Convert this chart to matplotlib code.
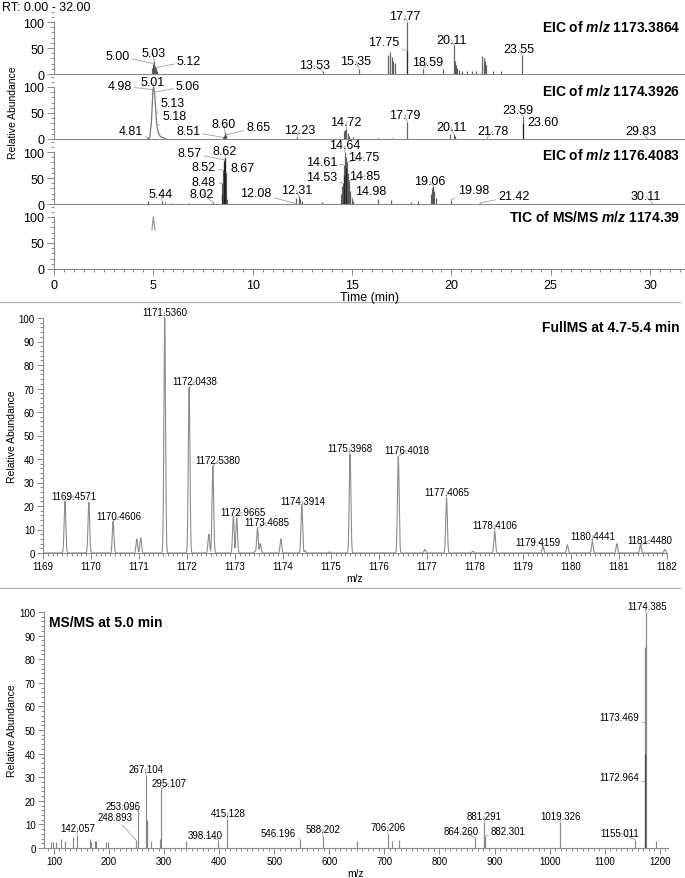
import numpy as np
import matplotlib
matplotlib.use("Agg")
import matplotlib.pyplot as plt
from matplotlib.lines import Line2D
from matplotlib.ticker import MultipleLocator

plt.rcParams['font.family'] = ['Liberation Sans', 'DejaVu Sans']
plt.rcParams['mathtext.fontset'] = 'custom'
plt.rcParams['mathtext.it'] = 'Liberation Sans:italic:bold'
plt.rcParams['mathtext.rm'] = 'Liberation Sans:bold'
plt.rcParams['mathtext.bf'] = 'Liberation Sans:bold'

# ---------------- data ----------------
# EIC of m/z 1173.3864
eic1_t = [4.95, 5.00, 5.03, 5.08, 5.12, 5.20, 13.53, 15.35, 16.80, 16.92, 17.00, 17.07, 17.14,
          17.75, 17.77, 18.59, 19.60, 20.11, 20.16, 20.21, 20.28, 20.36, 20.55, 20.78, 21.02,
          21.25, 21.55, 21.62, 21.68, 21.75, 22.10, 22.50, 23.55]
eic1_i = [12, 20, 25, 15, 12, 5, 5, 10, 36, 42, 32, 25, 22,
          45, 100, 10, 10, 55, 25, 18, 12, 8, 5, 5, 5,
          5, 35, 30, 25, 18, 5, 5, 37]
eic1_lab_t = [5.00, 5.03, 5.12, 13.53, 15.35, 17.75, 17.77, 18.59, 20.11, 23.55]
eic1_lab_i = [20, 25, 12, 5, 10, 45, 100, 10, 55, 37]

# EIC of m/z 1174.3926
eic2_prof_t = [4.70, 4.81, 4.90, 4.98, 5.01, 5.06, 5.13, 5.18, 5.25, 5.35, 5.50, 5.65]
eic2_prof_i = [0, 2, 30, 95, 100, 90, 50, 25, 12, 5, 2, 0]
eic2_t = [8.51, 8.55, 8.60, 8.65, 12.23, 14.60, 14.66, 14.72, 14.78, 14.85, 15.05, 16.30,
          17.00, 17.79, 19.95, 20.11, 20.20, 21.78, 23.59, 23.60, 29.83]
eic2_i = [3, 8, 13, 8, 3, 15, 18, 20, 12, 5, 3, 2,
          2, 33, 10, 10, 5, 2, 45, 30, 2]
eic2_lab_t = [4.98, 5.01, 5.06, 5.13, 5.18, 4.81, 8.51, 8.60, 8.65, 12.23, 14.72, 17.79,
              20.11, 21.78, 23.59, 23.60, 29.83]
eic2_lab_i = [95, 100, 90, 50, 25, 2, 3, 13, 8, 3, 20, 33, 10, 2, 45, 30, 2]

# EIC of m/z 1176.4083
eic3_t = [4.75, 5.44, 5.60, 5.90, 6.80, 8.02, 8.45, 8.48, 8.52, 8.55, 8.57, 8.60, 8.62, 8.67,
          8.72, 12.08, 12.20, 12.31, 12.40, 12.50, 13.50, 14.45, 14.50, 14.53, 14.57, 14.61,
          14.64, 14.68, 14.72, 14.75, 14.80, 14.85, 14.90, 14.98, 15.05, 16.30, 16.95, 17.95,
          18.30, 18.95, 19.00, 19.06, 19.12, 19.20, 19.98, 21.42, 30.11]
eic3_i = [6, 5, 4, 2, 2, 3, 20, 40, 65, 80, 85, 88, 90, 60,
          10, 2, 12, 15, 10, 5, 3, 20, 35, 40, 55, 75,
          100, 90, 70, 80, 60, 45, 25, 12, 5, 10, 8, 4,
          5, 20, 30, 35, 25, 12, 8, 2, 2]
eic3_lab_t = [5.44, 8.02, 8.48, 8.52, 8.57, 8.62, 8.67, 12.08, 12.31, 14.53, 14.61, 14.64,
              14.75, 14.85, 14.98, 19.06, 19.98, 21.42, 30.11]
eic3_lab_i = [5, 3, 40, 65, 85, 90, 60, 2, 15, 40, 75, 100, 80, 45, 12, 35, 8, 2, 2]

# TIC of MS/MS m/z 1174.39
tic_t = [4.93, 5.00, 5.08]
tic_i = [75, 100, 75]

eic_titles = ["1173.3864", "1174.3926", "1176.4083"]

# Full MS 4.7-5.4 min
ms1_mz = [1169.4571, 1169.955, 1170.4606, 1170.955, 1171.035, 1171.5360, 1172.0438, 1172.455,
          1172.5380, 1172.9665, 1173.035, 1173.425, 1173.4685, 1173.525, 1173.955, 1174.3914,
          1174.455, 1174.965, 1175.3968, 1176.4018, 1176.955, 1177.4065, 1177.955, 1178.4106,
          1179.4159, 1179.925, 1180.4441, 1180.955, 1181.4480, 1181.955]
ms1_int = [22, 21.5, 13.5, 6, 6.5, 100, 70.5, 8,
           37, 15.5, 15, 1, 10.5, 4, 6, 20,
           1, 0.5, 42, 41, 1.5, 23.5, 0.8, 9,
           3, 3.5, 5, 4, 3.5, 1.5]
ms1_lab_mz = [1169.4571, 1170.4606, 1171.5360, 1172.0438, 1172.5380, 1172.9665, 1173.4685,
              1174.3914, 1175.3968, 1176.4018, 1177.4065, 1178.4106, 1179.4159, 1180.4441,
              1181.4480]
ms1_lab_int = [22, 13.5, 100, 70.5, 37, 15.5, 10.5, 20, 42, 41, 23.5, 9, 3, 5, 3.5]

# MS/MS at 5.0 min
ms2_mz = [95.6, 98.6, 103.5, 112.5, 121.0, 133.8, 142.057, 165.0, 168.0, 174.0, 176.0, 194.0,
          198.6, 248.893, 253.096, 267.104, 268.2, 276.0, 293.5, 295.107, 339.0, 398.140,
          415.128, 546.196, 588.202, 650.0, 706.206, 714.0, 726.0, 864.260, 881.291, 882.301,
          1019.326, 1155.011, 1172.964, 1173.469, 1174.385, 1194.0]
ms2_int = [2.5, 2.5, 2.5, 4.0, 3.0, 4.5, 5.5, 4.0, 2.5, 3.0, 3.0, 2.5,
           2.5, 3.5, 16.0, 31.0, 12.0, 3.0, 4.0, 25.0, 3.0, 3.5,
           12.5, 4.0, 5.0, 3.0, 6.0, 3.0, 3.5, 4.5, 11.0, 5.0,
           11.0, 3.5, 40.0, 85.0, 100.0, 3.0]
ms2_lab_mz = [142.057, 248.893, 253.096, 267.104, 295.107, 398.140, 415.128, 546.196, 588.202,
              706.206, 864.260, 881.291, 882.301, 1019.326, 1155.011, 1174.385, 1173.469,
              1172.964]
ms2_lab_int = [5.5, 3.5, 16, 31, 25, 3.5, 12.5, 4, 5, 6, 4.5, 11, 5, 11, 3.5, 100, 53, 28]

# ---------------- label placement (data coords) ----------------
eic1_lab_pos = [(3.2, 35), (5.0, 40), (6.8, 25), (13.1, 17), (15.2, 25), (16.6, 61),
                (17.65, 112), (18.8, 23), (20.0, 66), (23.4, 48)]
eic2_lab_pos = [(3.3, 102), (4.98, 110), (6.75, 102), (5.95, 69), (6.05, 44), (3.85, 15),
                (6.75, 15), (8.55, 29), (10.3, 23), (12.35, 17), (14.7, 33), (17.65, 46),
                (20.0, 23), (22.1, 15), (23.35, 56), (24.6, 33), (29.55, 15)]
eic3_lab_pos = [(5.38, 19), (7.45, 19), (7.55, 42), (7.55, 71), (6.8, 98), (8.57, 102),
                (9.47, 69), (10.15, 21), (12.2, 27), (13.45, 52), (13.45, 81), (14.65, 113),
                (15.6, 90), (15.65, 54), (15.95, 25), (18.9, 44), (21.1, 27), (23.15, 15),
                (29.8, 15)]
ms1_lab_pos = [(1169.64, 24.3), (1170.59, 15.7), (1171.53, 102.5), (1172.17, 73),
               (1172.65, 39.5), (1173.16, 17.4), (1173.66, 13), (1174.41, 22),
               (1175.39, 44.7), (1176.58, 44), (1177.42, 26), (1178.42, 12),
               (1179.31, 4.7), (1180.46, 7.4), (1181.65, 5.5)]
ms2_lab_pos = [(143.5, 8.5), (210.7, 13), (225.3, 18), (267.1, 33.5), (308.9, 27.5),
               (374.4, 5.5), (416.2, 15), (507, 6.5), (588.9, 8), (707, 9), (839.8, 7),
               (881.6, 13.5), (925.3, 7), (1019.8, 13.5), (1127, 6.5), (1176.2, 102.5),
               (1127, 55.5), (1127, 30)]

W, H = 685, 879
GRAY = '#8a8a8a'


def rect(left, right, bottom, top):
    return [left / W, 1 - bottom / H, (right - left) / W, (bottom - top) / H]


def put_labels(ax, texts, tx, ty, pos, size):
    for s, x, y, (lx, ly) in zip(texts, tx, ty, pos):
        ax.annotate(s, xy=(x, y), xytext=(lx, ly), ha='center', va='center',
                    fontsize=size, annotation_clip=False,
                    arrowprops=dict(arrowstyle='-', color='#a0a0a0', lw=0.6,
                                    shrinkA=0, shrinkB=0))


def style_axes(ax):
    for s in ['top', 'right']:
        ax.spines[s].set_visible(False)
    for s in ['left', 'bottom']:
        ax.spines[s].set_color(GRAY)
        ax.spines[s].set_linewidth(0.8)
    ax.tick_params(which='both', direction='out', color=GRAY, width=0.7)
    ax.set_facecolor('none')


fig = plt.figure(figsize=(W / 100, H / 100), dpi=100)

# ---------------- chromatograms ----------------
xmax_rt = (W - 54) / 19.87
baselines = [75, 140, 205, 270]
eic_axes = []
for b in baselines:
    ax = fig.add_axes(rect(54, W, b, b - 65))
    style_axes(ax)
    ax.set_xlim(0, xmax_rt)
    ax.set_ylim(0, 125)
    ax.spines['left'].set_bounds(0, 100)
    ax.set_yticks([0, 50, 100])
    ax.yaxis.set_minor_locator(MultipleLocator(10))
    ax.tick_params(axis='y', which='major', length=5, labelsize=9, pad=2)
    ax.tick_params(axis='y', which='minor', length=2.5)
    ax.tick_params(axis='x', which='both', bottom=False, labelbottom=False)
    eic_axes.append(ax)

stick_kw = dict(color='black', alpha=0.6, lw=0.9)
eic_axes[0].vlines(eic1_t, 0, eic1_i, **stick_kw)
put_labels(eic_axes[0], [f"{t:.2f}" for t in eic1_lab_t], eic1_lab_t, eic1_lab_i,
           eic1_lab_pos, 9)

eic_axes[1].plot(eic2_prof_t, eic2_prof_i, color='#777777', lw=0.9)
eic_axes[1].vlines(eic2_t, 0, eic2_i, **stick_kw)
put_labels(eic_axes[1], [f"{t:.2f}" for t in eic2_lab_t], eic2_lab_t, eic2_lab_i,
           eic2_lab_pos, 9)

eic_axes[2].vlines(eic3_t, 0, eic3_i, **stick_kw)
put_labels(eic_axes[2], [f"{t:.2f}" for t in eic3_lab_t], eic3_lab_t, eic3_lab_i,
           eic3_lab_pos, 9)

eic_axes[3].plot(tic_t, tic_i, color='#999999', lw=0.9)
ax = eic_axes[3]
ax.tick_params(axis='x', which='both', bottom=True, labelbottom=True)
ax.xaxis.set_major_locator(MultipleLocator(5))
ax.xaxis.set_minor_locator(MultipleLocator(0.5))
ax.tick_params(axis='x', which='major', length=4, labelsize=9, pad=3)
ax.tick_params(axis='x', which='minor', length=2)

title_y = [28, 91, 156, 218]
for k, mz in enumerate(eic_titles):
    fig.text(680 / W, 1 - title_y[k] / H, r"EIC of $m/z$ " + mz, ha='right', va='center',
             fontsize=10, fontweight='bold')
fig.text(680 / W, 1 - title_y[3] / H, r"TIC of MS/MS $m/z$ 1174.39", ha='right',
         va='center', fontsize=10, fontweight='bold')

fig.text(2 / W, 1 - 8 / H, "RT: 0.00 - 32.00", ha='left', va='center', fontsize=9)
fig.text(13 / W, 1 - 113 / H, "Relative Abundance", rotation=90, ha='center',
         va='center', fontsize=7.5)
fig.text(370 / W, 1 - 298 / H, "Time (min)", ha='center', va='center', fontsize=9)

# separators
for yy in [303, 589]:
    fig.add_artist(Line2D([0, 680 / W], [1 - yy / H] * 2, color='#b0b0b0', lw=0.9))

# ---------------- full MS ----------------
ax1 = fig.add_axes(rect(43, 667, 554, 319))
style_axes(ax1)
grid = np.linspace(1169, 1182, 8000)
prof = np.zeros_like(grid)
for m, h in zip(ms1_mz, ms1_int):
    prof = np.maximum(prof, h * np.exp(-0.5 * ((grid - m) / 0.017) ** 2))
ax1.plot(grid, prof, color='#8c8c8c', lw=0.8)
ax1.set_xlim(1169, 1182)
ax1.set_ylim(0, 100)
ax1.xaxis.set_major_locator(MultipleLocator(1))
ax1.xaxis.set_minor_locator(MultipleLocator(0.1))
ax1.yaxis.set_major_locator(MultipleLocator(10))
ax1.yaxis.set_minor_locator(MultipleLocator(2))
ax1.tick_params(which='major', length=4, labelsize=7, pad=2)
ax1.tick_params(which='minor', length=2)
put_labels(ax1, [f"{m:.4f}" for m in ms1_lab_mz], ms1_lab_mz, ms1_lab_int, ms1_lab_pos, 7)
fig.text(680 / W, 1 - 328 / H, "FullMS at 4.7-5.4 min", ha='right', va='center',
         fontsize=10, fontweight='bold')
fig.text(12 / W, 1 - 437 / H, "Relative Abundance", rotation=90, ha='center',
         va='center', fontsize=7.5)
fig.text(355 / W, 1 - 579 / H, "m/z", ha='center', va='center', fontsize=7.5)

# ---------------- MS/MS ----------------
ax2 = fig.add_axes(rect(44, 668, 849, 613))
style_axes(ax2)
ax2.vlines(ms2_mz, 0, ms2_int, color='black', alpha=0.45, lw=0.9)
ax2.set_xlim(82, 1215)
ax2.set_ylim(0, 100)
ax2.xaxis.set_major_locator(MultipleLocator(100))
ax2.xaxis.set_minor_locator(MultipleLocator(10))
ax2.yaxis.set_major_locator(MultipleLocator(10))
ax2.yaxis.set_minor_locator(MultipleLocator(2))
ax2.tick_params(which='major', length=4, labelsize=7, pad=2)
ax2.tick_params(which='minor', length=2)
put_labels(ax2, [f"{m:.3f}" for m in ms2_lab_mz], ms2_lab_mz, ms2_lab_int, ms2_lab_pos, 7)
fig.text(49 / W, 1 - 623 / H, "MS/MS at 5.0 min", ha='left', va='center',
         fontsize=10, fontweight='bold')
fig.text(12 / W, 1 - 731 / H, "Relative Abundance", rotation=90, ha='center',
         va='center', fontsize=7.5)
fig.text(356 / W, 1 - 874 / H, "m/z", ha='center', va='center', fontsize=7.5)

fig.savefig("out.png", dpi=100)
